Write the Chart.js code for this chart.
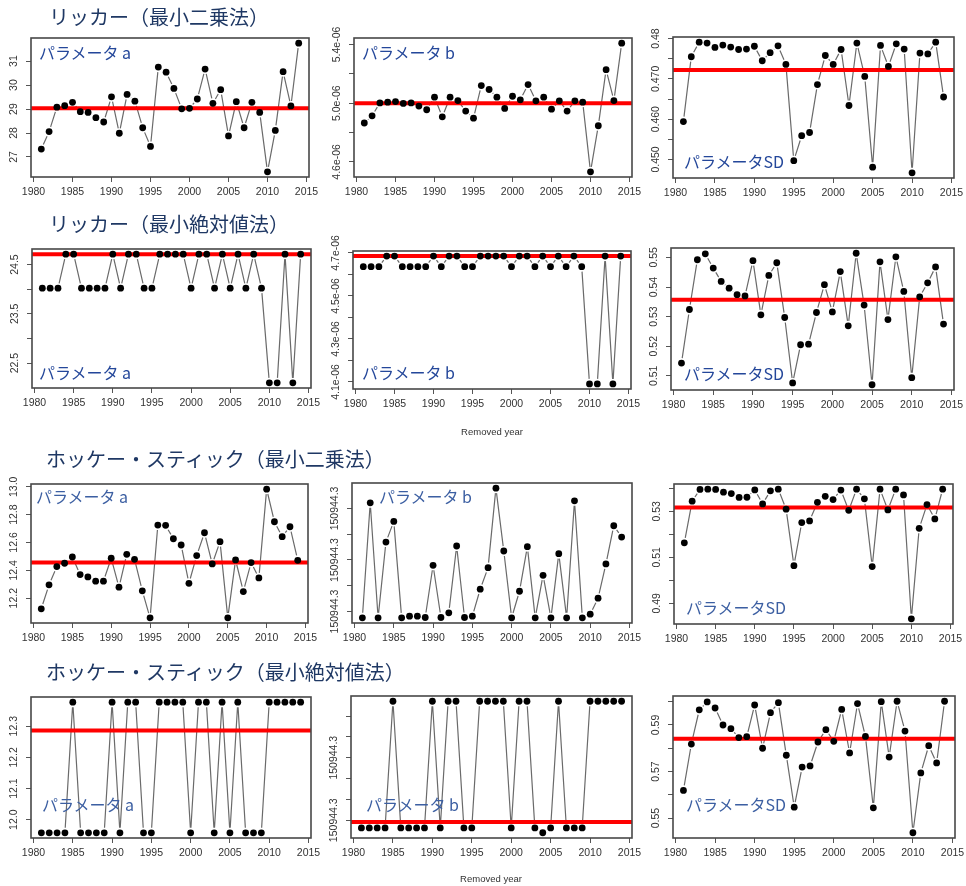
<!DOCTYPE html>
<html>
<head>
<meta charset="utf-8">
<title>リッカー / ホッケー・スティック パラメータ推定</title>
<script src="https://cdn.jsdelivr.net/npm/chart.js@4.4.1/dist/chart.umd.min.js"></script>
<style>
html, body { margin: 0; padding: 0; background: #fff; }
#page { position: relative; width: 966px; height: 886px; overflow: hidden; }
#page canvas { position: absolute; }
.title { position: absolute; font-family: "Noto Sans CJK JP", sans-serif; font-size: 20px; line-height: 20px; color: #1f3864; white-space: nowrap; }
.param { position: absolute; font-family: "Noto Sans CJK JP", sans-serif; font-size: 16px; line-height: 16px; white-space: nowrap; }
.xlab { position: absolute; font-family: "Liberation Sans", Arial, sans-serif; font-size: 9.5px; color: #333; white-space: nowrap; transform: translate(-50%, -50%); }
</style>
</head>
<body>
<div id="page"></div>
<script>
// Removed year (x axis) and its tick labels
const years = [1981, 1982, 1983, 1984, 1985, 1986, 1987, 1988, 1989, 1990,
               1991, 1992, 1993, 1994, 1995, 1996, 1997, 1998, 1999, 2000,
               2001, 2002, 2003, 2004, 2005, 2006, 2007, 2008, 2009, 2010,
               2011, 2012, 2013, 2014];
const xTicks = [1980, 1985, 1990, 1995, 2000, 2005, 2010, 2015];

// Ricker, least squares
const rickerLsA = [27.33, 28.06, 29.08, 29.14, 29.28, 28.89, 28.86, 28.64, 28.46, 29.51,
                   27.99, 29.61, 29.33, 28.22, 27.44, 30.75, 30.54, 29.86, 29.01, 29.03,
                   29.42, 30.67, 29.24, 29.81, 27.88, 29.31, 28.22, 29.28, 28.86, 26.38,
                   28.11, 30.56, 29.13, 31.75];
const rickerLsARef = 29.03;
const rickerLsB = [4.865e-6, 4.914e-6, 5.002e-6, 5.007e-6, 5.011e-6, 4.998e-6, 5.002e-6, 4.980e-6, 4.955e-6, 5.041e-6,
                   4.907e-6, 5.041e-6, 5.018e-6, 4.946e-6, 4.898e-6, 5.120e-6, 5.093e-6, 5.041e-6, 4.964e-6, 5.047e-6,
                   5.023e-6, 5.127e-6, 5.016e-6, 5.041e-6, 4.959e-6, 5.016e-6, 4.946e-6, 5.016e-6, 5.007e-6, 4.532e-6,
                   4.846e-6, 5.228e-6, 5.018e-6, 5.409e-6];
const rickerLsBRef = 5.0e-6;
const rickerLsSD = [0.4594, 0.4755, 0.4791, 0.4789, 0.4778, 0.4784, 0.4779, 0.4773, 0.4774, 0.4781,
                    0.4745, 0.4765, 0.4782, 0.4736, 0.4497, 0.4559, 0.4567, 0.4686, 0.4758, 0.4736,
                    0.4773, 0.4634, 0.4789, 0.4706, 0.4481, 0.4783, 0.4731, 0.4787, 0.4774, 0.4467,
                    0.4764, 0.4762, 0.4791, 0.4655];
const rickerLsSDRef = 0.4722;

// Ricker, least absolute deviations
const rickerLadA = [24.02, 24.02, 24.02, 24.71, 24.71, 24.02, 24.02, 24.02, 24.02, 24.71,
                    24.02, 24.71, 24.71, 24.02, 24.02, 24.71, 24.71, 24.71, 24.71, 24.02,
                    24.71, 24.71, 24.02, 24.71, 24.02, 24.71, 24.02, 24.71, 24.02, 22.10,
                    22.10, 24.71, 22.10, 24.71];
const rickerLadARef = 24.71;
const rickerLadB = [4.636e-6, 4.636e-6, 4.636e-6, 4.685e-6, 4.685e-6, 4.636e-6, 4.636e-6, 4.636e-6, 4.636e-6, 4.685e-6,
                    4.636e-6, 4.685e-6, 4.685e-6, 4.636e-6, 4.636e-6, 4.685e-6, 4.685e-6, 4.685e-6, 4.685e-6, 4.636e-6,
                    4.685e-6, 4.685e-6, 4.636e-6, 4.685e-6, 4.636e-6, 4.685e-6, 4.636e-6, 4.685e-6, 4.636e-6, 4.091e-6,
                    4.091e-6, 4.685e-6, 4.091e-6, 4.685e-6];
const rickerLadBRef = 4.685e-6;
const rickerLadSD = [0.5143, 0.5324, 0.5492, 0.5512, 0.5464, 0.5419, 0.5396, 0.5374, 0.5370, 0.5489,
                     0.5306, 0.5439, 0.5482, 0.5297, 0.5076, 0.5205, 0.5207, 0.5314, 0.5408, 0.5316,
                     0.5452, 0.5269, 0.5514, 0.5339, 0.5070, 0.5485, 0.5290, 0.5502, 0.5385, 0.5094,
                     0.5367, 0.5414, 0.5468, 0.5275];
const rickerLadSDRef = 0.5357;

// Hockey stick, least squares
const hockeyLsA = [12.124, 12.296, 12.427, 12.451, 12.496, 12.370, 12.353, 12.322, 12.322, 12.487,
                   12.279, 12.515, 12.479, 12.253, 12.059, 12.725, 12.723, 12.627, 12.582, 12.307,
                   12.506, 12.670, 12.446, 12.606, 12.059, 12.475, 12.248, 12.456, 12.346, 12.983,
                   12.749, 12.642, 12.713, 12.472];
const hockeyLsARef = 12.456;
const hockeyLsB = [150944.299999755, 150944.300004219, 150944.299999755, 150944.300002697, 150944.300003497,
                   150944.299999755, 150944.299999819, 150944.299999819, 150944.299999768, 150944.300001794,
                   150944.299999768, 150944.299999948, 150944.300002542, 150944.299999768, 150944.299999819,
                   150944.300000865, 150944.300001703, 150944.300004787, 150944.300002348, 150944.299999755,
                   150944.300000787, 150944.300002516, 150944.299999755, 150944.300001406, 150944.299999755,
                   150944.300002245, 150944.299999755, 150944.300004297, 150944.299999755, 150944.299999897,
                   150944.300000516, 150944.300001845, 150944.300003329, 150944.30000289];
const hockeyLsBRef = null;
const hockeyLsSD = [0.5163, 0.5344, 0.5395, 0.5396, 0.5395, 0.5383, 0.5377, 0.5360, 0.5361, 0.5393,
                    0.5332, 0.5389, 0.5396, 0.5309, 0.5064, 0.5251, 0.5258, 0.5339, 0.5365, 0.5351,
                    0.5392, 0.5304, 0.5396, 0.5354, 0.5060, 0.5396, 0.5306, 0.5396, 0.5371, 0.4833,
                    0.5226, 0.5329, 0.5267, 0.5396];
const hockeyLsSDRef = 0.5316;

// Hockey stick, least absolute deviations
const hockeyLadA = [11.958, 11.958, 11.958, 11.958, 12.377, 11.958, 11.958, 11.958, 11.958, 12.377,
                    11.958, 12.377, 12.377, 11.958, 11.958, 12.377, 12.377, 12.377, 12.377, 11.958,
                    12.377, 12.377, 11.958, 12.377, 11.958, 12.377, 11.958, 11.958, 11.958, 12.377,
                    12.377, 12.377, 12.377, 12.377];
const hockeyLadARef = 12.286;
const hockeyLadB = [150944.29999963, 150944.29999963, 150944.29999963, 150944.29999963, 150944.30000571,
                    150944.29999963, 150944.29999963, 150944.29999963, 150944.29999963, 150944.30000571,
                    150944.29999963, 150944.30000571, 150944.30000571, 150944.29999963, 150944.29999963,
                    150944.30000571, 150944.30000571, 150944.30000571, 150944.30000571, 150944.29999963,
                    150944.30000571, 150944.30000571, 150944.29999963, 150944.2999994, 150944.29999963,
                    150944.30000571, 150944.29999963, 150944.29999963, 150944.29999963, 150944.30000571,
                    150944.30000571, 150944.30000571, 150944.30000571, 150944.30000571];
const hockeyLadBRef = 150944.29999992;
const hockeyLadSD = [0.5619, 0.5818, 0.5965, 0.5999, 0.5973, 0.5900, 0.5884, 0.5846, 0.5850, 0.5986,
                     0.5800, 0.5953, 0.5996, 0.5770, 0.5547, 0.5719, 0.5724, 0.5827, 0.5880, 0.5830,
                     0.5967, 0.5780, 0.5992, 0.5851, 0.5544, 0.6000, 0.5762, 0.6002, 0.5874, 0.5437,
                     0.5694, 0.5811, 0.5737, 0.6002];
const hockeyLadSDRef = 0.5841;

// y-axis tick positions and the labels printed beside them ('' = tick only)
const ticksRickerLsA = [27, 28, 29, 30, 31];
const labelsRickerLsA = ['27', '28', '29', '30', '31'];
const ticksRickerLsB = [4.6e-6, 4.8e-6, 5.0e-6, 5.2e-6, 5.4e-6];
const labelsRickerLsB = ['4.6e-06', '', '5.0e-06', '', '5.4e-06'];
const ticksRickerLsSD = [0.450, 0.455, 0.460, 0.465, 0.470, 0.475, 0.480];
const labelsRickerLsSD = ['0.450', '', '0.460', '', '0.470', '', '0.48'];
const ticksRickerLadA = [22.5, 23.0, 23.5, 24.0, 24.5];
const labelsRickerLadA = ['22.5', '', '23.5', '', '24.5'];
const ticksRickerLadB = [4.1e-6, 4.2e-6, 4.3e-6, 4.4e-6, 4.5e-6, 4.6e-6, 4.7e-6];
const labelsRickerLadB = ['4.1e-06', '', '4.3e-06', '', '4.5e-06', '', '4.7e-06'];
const ticksRickerLadSD = [0.51, 0.52, 0.53, 0.54, 0.55];
const labelsRickerLadSD = ['0.51', '0.52', '0.53', '0.54', '0.55'];
const ticksHockeyLsA = [12.2, 12.4, 12.6, 12.8, 13.0];
const labelsHockeyLsA = ['12.2', '12.4', '12.6', '12.8', '13.0'];
const ticksHockeyLsB = [150944.3, 150944.300001, 150944.300002, 150944.300003, 150944.300004];
const labelsHockeyLsB = ['150944.3', '', '150944.3', '', '150944.3'];
const ticksHockeyLsSD = [0.49, 0.50, 0.51, 0.52, 0.53, 0.54];
const labelsHockeyLsSD = ['0.49', '', '0.51', '', '0.53', ''];
const ticksHockeyLadA = [12.0, 12.1, 12.2, 12.3];
const labelsHockeyLadA = ['12.0', '12.1', '12.2', '12.3'];
const ticksHockeyLadB = [150944.3, 150944.300001, 150944.300002, 150944.300003, 150944.300004, 150944.300005];
const labelsHockeyLadB = ['150944.3', '', '', '150944.3', '', ''];
const ticksHockeyLadSD = [0.55, 0.56, 0.57, 0.58, 0.59, 0.60];
const labelsHockeyLadSD = ['0.55', '', '0.57', '', '0.59', ''];

// ---- page layout ----
const page = document.getElementById('page');

// plot frames: [left, top, right, bottom] in page pixels
const panels = [
  { box: [31, 38, 309, 177],  values: rickerLsA,   ref: rickerLsARef,   ticks: ticksRickerLsA,   labels: labelsRickerLsA },
  { box: [354, 38, 632, 177], values: rickerLsB,   ref: rickerLsBRef,   ticks: ticksRickerLsB,   labels: labelsRickerLsB },
  { box: [673, 37, 954, 178], values: rickerLsSD,  ref: rickerLsSDRef,  ticks: ticksRickerLsSD,  labels: labelsRickerLsSD },
  { box: [32, 249, 311, 388], values: rickerLadA,  ref: rickerLadARef,  ticks: ticksRickerLadA,  labels: labelsRickerLadA },
  { box: [353, 251, 631, 389], values: rickerLadB, ref: rickerLadBRef,  ticks: ticksRickerLadB,  labels: labelsRickerLadB },
  { box: [671, 248, 954, 390], values: rickerLadSD, ref: rickerLadSDRef, ticks: ticksRickerLadSD, labels: labelsRickerLadSD },
  { box: [31, 484, 308, 623], values: hockeyLsA,   ref: hockeyLsARef,   ticks: ticksHockeyLsA,   labels: labelsHockeyLsA },
  { box: [352, 483, 632, 623], values: hockeyLsB,  ref: hockeyLsBRef,   ticks: ticksHockeyLsB,   labels: labelsHockeyLsB },
  { box: [674, 484, 953, 624], values: hockeyLsSD, ref: hockeyLsSDRef,  ticks: ticksHockeyLsSD,  labels: labelsHockeyLsSD },
  { box: [31, 697, 311, 838], values: hockeyLadA,  ref: hockeyLadARef,  ticks: ticksHockeyLadA,  labels: labelsHockeyLadA },
  { box: [351, 696, 632, 838], values: hockeyLadB, ref: hockeyLadBRef,  ticks: ticksHockeyLadB,  labels: labelsHockeyLadB },
  { box: [673, 696, 955, 838], values: hockeyLadSD, ref: hockeyLadSDRef, ticks: ticksHockeyLadSD, labels: labelsHockeyLadSD }
];

const titles = [
  { text: 'リッカー（最小二乗法）', x: 49, y: 7 },
  { text: 'リッカー（最小絶対値法）', x: 49, y: 214 },
  { text: 'ホッケー・スティック（最小二乗法）', x: 46, y: 449 },
  { text: 'ホッケー・スティック（最小絶対値法）', x: 46, y: 662 }
];

const params = [
  { text: 'パラメータ a', x: 39, y: 44, color: '#24479a' },
  { text: 'パラメータ b', x: 362, y: 44, color: '#24479a' },
  { text: 'パラメータSD', x: 684, y: 153, color: '#24479a' },
  { text: 'パラメータ a', x: 39, y: 364, color: '#24479a' },
  { text: 'パラメータ b', x: 362, y: 364, color: '#24479a' },
  { text: 'パラメータSD', x: 684, y: 365, color: '#24479a' },
  { text: 'パラメータ a', x: 36, y: 488, color: '#3c5fa2' },
  { text: 'パラメータ b', x: 379, y: 488, color: '#3c5fa2' },
  { text: 'パラメータSD', x: 686, y: 599, color: '#3c5fa2' },
  { text: 'パラメータ a', x: 42, y: 796, color: '#3c5fa2' },
  { text: 'パラメータ b', x: 366, y: 796, color: '#3c5fa2' },
  { text: 'パラメータSD', x: 686, y: 796, color: '#3c5fa2' }
];

const axisTitles = [
  { text: 'Removed year', x: 492, y: 431 },
  { text: 'Removed year', x: 491, y: 878 }
];

// R-style axis extent: data range widened by 4% on each side
function paddedRange(arr) {
  const lo = Math.min(...arr), hi = Math.max(...arr);
  const d = (hi - lo) * 0.04;
  return [lo - d, hi + d];
}
const [X_MIN, X_MAX] = paddedRange(years);

// connecting segments that stop short of each point (R type = "b")
const GAP = 5;
const gapLines = {
  id: 'gapLines',
  beforeDatasetsDraw(chart) {
    const pts = chart.getDatasetMeta(0).data;
    const ctx = chart.ctx;
    ctx.save();
    ctx.strokeStyle = '#6a6a6a';
    ctx.lineWidth = 1.2;
    ctx.beginPath();
    for (let i = 0; i < pts.length - 1; i++) {
      const p = pts[i], q = pts[i + 1];
      const dx = q.x - p.x, dy = q.y - p.y, d = Math.hypot(dx, dy);
      if (d <= 2 * GAP) continue;
      const ux = dx / d, uy = dy / d;
      ctx.moveTo(p.x + ux * GAP, p.y + uy * GAP);
      ctx.lineTo(q.x - ux * GAP, q.y - uy * GAP);
    }
    ctx.stroke();
    ctx.restore();
  }
};

// rotated y tick labels, reading bottom to top
const yLabels = {
  id: 'yLabels',
  afterDraw(chart, args, opts) {
    const ys = chart.scales.y, ctx = chart.ctx, left = chart.chartArea.left;
    ctx.save();
    ctx.font = '10.5px "Liberation Sans", Arial, sans-serif';
    ctx.fillStyle = '#333';
    ctx.textAlign = 'center';
    ctx.textBaseline = 'alphabetic';
    opts.values.forEach((v, i) => {
      const txt = opts.labels[i];
      if (!txt) return;
      const y = ys.getPixelForValue(v);
      ctx.save();
      ctx.translate(left - 14, y);
      ctx.rotate(-Math.PI / 2);
      ctx.fillText(txt, 0, 0);
      ctx.restore();
    });
    ctx.restore();
  }
};

// frame around the plotting region
const frame = {
  id: 'frame',
  afterDraw(chart) {
    const a = chart.chartArea, ctx = chart.ctx;
    ctx.save();
    ctx.strokeStyle = '#484848';
    ctx.lineWidth = 1.6;
    ctx.strokeRect(a.left, a.top, a.right - a.left, a.bottom - a.top);
    ctx.restore();
  }
};

const Y_AXIS_W = 30, X_AXIS_H = 30, PAD_T = 26, PAD_R = 14;
const tickFont = { family: '"Liberation Sans", Arial, sans-serif', size: 10.5 };

panels.forEach(p => {
  const [l, t, r, b] = p.box;
  const cv = document.createElement('canvas');
  const w = (r - l) + Y_AXIS_W + PAD_R;
  const h = (b - t) + PAD_T + X_AXIS_H;
  cv.width = w; cv.height = h;
  cv.style.left = (l - Y_AXIS_W) + 'px';
  cv.style.top = (t - PAD_T) + 'px';
  cv.style.width = w + 'px';
  cv.style.height = h + 'px';
  page.appendChild(cv);

  const [yMin, yMax] = paddedRange(p.values);
  const datasets = [{
    data: years.map((yr, i) => ({ x: yr, y: p.values[i] })),
    showLine: false,
    pointRadius: 3.4,
    pointHoverRadius: 3.4,
    pointBackgroundColor: '#000',
    pointBorderWidth: 0,
    clip: 8
  }];
  if (p.ref !== null) {
    datasets.push({
      data: [{ x: X_MIN, y: p.ref }, { x: X_MAX, y: p.ref }],
      showLine: true,
      borderColor: '#ff0000',
      borderWidth: 4,
      pointRadius: 0,
      clip: 0
    });
  }

  new Chart(cv, {
    type: 'scatter',
    data: { datasets },
    options: {
      responsive: false,
      animation: false,
      devicePixelRatio: 1,
      layout: { padding: { left: 0, top: PAD_T, right: PAD_R, bottom: 0 } },
      plugins: {
        legend: { display: false },
        tooltip: { enabled: false },
        yLabels: { values: p.ticks, labels: p.labels }
      },
      events: [],
      scales: {
        x: {
          type: 'linear',
          min: X_MIN, max: X_MAX,
          afterBuildTicks: s => { s.ticks = xTicks.map(v => ({ value: v })); },
          afterFit: s => { s.height = X_AXIS_H; },
          ticks: {
            callback: v => String(v),
            color: '#333',
            font: tickFont,
            padding: 4,
            maxRotation: 0, minRotation: 0,
            autoSkip: false
          },
          grid: { drawOnChartArea: false, drawTicks: true, tickLength: 5, color: '#555', lineWidth: 1 },
          border: { display: false }
        },
        y: {
          type: 'linear',
          min: yMin, max: yMax,
          afterBuildTicks: s => { s.ticks = p.ticks.map(v => ({ value: v })); },
          afterFit: s => { s.width = Y_AXIS_W; },
          ticks: { display: false, callback: () => '' },
          grid: { drawOnChartArea: false, drawTicks: true, tickLength: 5, color: '#555', lineWidth: 1 },
          border: { display: false }
        }
      }
    },
    plugins: [gapLines, yLabels, frame]
  });
});

titles.forEach(tt => {
  const d = document.createElement('div');
  d.className = 'title';
  d.textContent = tt.text;
  d.style.left = tt.x + 'px';
  d.style.top = tt.y + 'px';
  page.appendChild(d);
});

params.forEach(pp => {
  const d = document.createElement('div');
  d.className = 'param';
  d.textContent = pp.text;
  d.style.left = pp.x + 'px';
  d.style.top = pp.y + 'px';
  d.style.color = pp.color;
  page.appendChild(d);
});

axisTitles.forEach(at => {
  const d = document.createElement('div');
  d.className = 'xlab';
  d.textContent = at.text;
  d.style.left = at.x + 'px';
  d.style.top = at.y + 'px';
  page.appendChild(d);
});
</script>
</body>
</html>
